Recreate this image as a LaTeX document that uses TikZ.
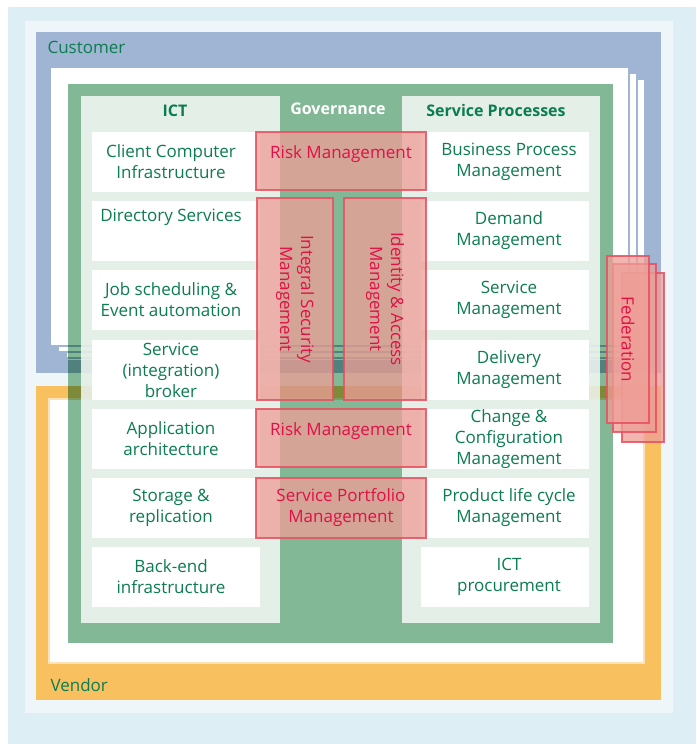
\documentclass[tikz,border=0pt]{standalone}
\usepackage{fontspec}
\setmainfont{Open Sans}
\usepackage{tikz}
\usetikzlibrary{positioning}
\definecolor{bgouter}{RGB}{221,238,245}
\definecolor{bginner}{RGB}{238,246,250}
\definecolor{custblue}{RGB}{160,180,212}
\definecolor{vendorange}{RGB}{249,192,96}
\definecolor{vendpale}{RGB}{253,226,184}
\definecolor{govgreen}{RGB}{130,184,150}
\definecolor{panelgreen}{RGB}{246,249,246}
\definecolor{txtgreen}{RGB}{12,125,80}
\definecolor{riskfill}{RGB}{238,158,151}
\definecolor{riskline}{RGB}{230,80,95}
\definecolor{risktext}{RGB}{226,16,70}
\tikzset{%
	custpage/.style = {fill=white, draw=custblue, line width=2.5pt},
	panel/.style    = {fill=panelgreen, fill opacity=0.85},
	boxbase/.style  = {fill=white, text width=168pt, minimum height=60pt, inner sep=0pt, align=flush center, text=txtgreen, font=\fontsize{17}{21}\selectfont},
	ictbox/.style   = {boxbase, execute at begin node={\rightskip=10pt plus 1fil}},
	spbox/.style    = {boxbase, execute at begin node={\leftskip=8pt plus 1fil}},
	riskbox/.style  = {fill=riskfill, fill opacity=0.76, text opacity=1, draw=riskline, draw opacity=0.85, line width=2.5pt, inner sep=0pt, align=center, text=risktext, font=\fontsize{17}{21}\selectfont},
	headline/.style = {font=\bfseries\fontsize{16}{20}\selectfont, text=txtgreen},
	layername/.style= {anchor=west, font=\fontsize{17}{21}\selectfont, text=txtgreen},
}
\begin{document}
\begin{tikzpicture}[x=1pt,y=-1pt]
		\useasboundingbox (0,0) rectangle (696,744);
		\fill[bgouter] (8,7) rectangle (696,744);
		\fill[bginner] (25,21) rectangle (673,713);
		
		\fill[custblue] (36,32) rectangle (661,373);
		\draw[custpage] (66,79) rectangle (645,358);
		\draw[custpage] (58,73) rectangle (637,352);
		\draw[custpage] (50,67) rectangle (629,346);
		\node[layername] (lblcustomer) at (44,47) {Customer};
		
		\fill[vendorange] (36,386) rectangle (661,700);
		\draw[fill=white, draw=vendpale, line width=2pt] (49,399) rectangle (644,663);
		\node[layername] (lblvendor) at (47,685) {Vendor};
		
		\fill[govgreen] (68,84) rectangle (613,643);
		\begin{scope}[blend mode=multiply]
			\fill[custblue] (68,359.5) rectangle (613,373);
			\draw[custblue, line width=2.5pt] (68,346) -- (613,346) (68,352) -- (613,352) (68,358) -- (613,358);
			\fill[vendorange] (68,386) rectangle (613,398);
			\draw[vendorange!60!white, line width=2pt] (68,399) -- (613,399);
		\end{scope}
		\fill[panel] (81,96) rectangle (280,623);
		\fill[panel] (402,96) rectangle (600,623);
		\node[headline] (lblict) at (175,111) {ICT};
		\node[headline, text=white] (lblgov) at (338,109) {Governance};
		\node[headline] (lblsp) at (496,110) {Service Processes};
		
		\node[ictbox] (cci) at (176,162) {Client Computer\\Infrastructure};
		\node[ictbox, text depth=32pt] (dirsvc) at (176,231) {Directory Services};
		\node[ictbox] (jobsched) at (176,300) {Job scheduling \&\\Event automation};
		\node[ictbox] (broker) at (176,370) {Service\\(integration)\\broker};
		\node[ictbox] (apparch) at (176,439) {Application\\architecture};
		\node[ictbox] (storage) at (176,508) {Storage \&\\replication};
		\node[ictbox] (backend) at (176,577) {Back-end\\infrastructure};
		
		\node[spbox] (bpm) at (505,162) {Business Process\\Management};
		\node[spbox] (demand) at (505,231) {Demand\\Management};
		\node[spbox] (svcmgmt) at (505,300) {Service\\Management};
		\node[spbox] (delivery) at (505,370) {Delivery\\Management};
		\node[spbox] (changecfg) at (505,439) {Change \&\\Configuration\\Management};
		\node[spbox] (plc) at (505,508) {Product life cycle\\Management};
		\node[spbox] (procure) at (505,577) {ICT\\procurement};
		
		\node[riskbox, minimum width=170pt, minimum height=58pt, text depth=18pt] (riskA) at (341,161) {Risk Management};
		\node[riskbox, rotate=-90, minimum width=202pt, minimum height=76pt] (ism) at (295,299) {Integral Security\\Management};
		\node[riskbox, rotate=-90, minimum width=202pt, minimum height=82pt] (iam) at (385,299) {Identity \& Access\\Management};
		\node[riskbox, minimum width=170pt, minimum height=58pt, text depth=18pt] (riskB) at (341,438) {Risk Management};
		\node[riskbox, minimum width=170pt, minimum height=60pt] (spm) at (341,508) {Service Portfolio\\Management};
		
		\node[riskbox, rotate=-90, minimum width=169pt, minimum height=42pt] (fedC) at (643,357.5) {};
		\node[riskbox, rotate=-90, minimum width=168pt, minimum height=43pt] (fedB) at (634.5,348) {};
		\node[riskbox, rotate=-90, minimum width=167pt, minimum height=42pt] (fedA) at (628,339.5) {Federation};
\end{tikzpicture}
\end{document}
